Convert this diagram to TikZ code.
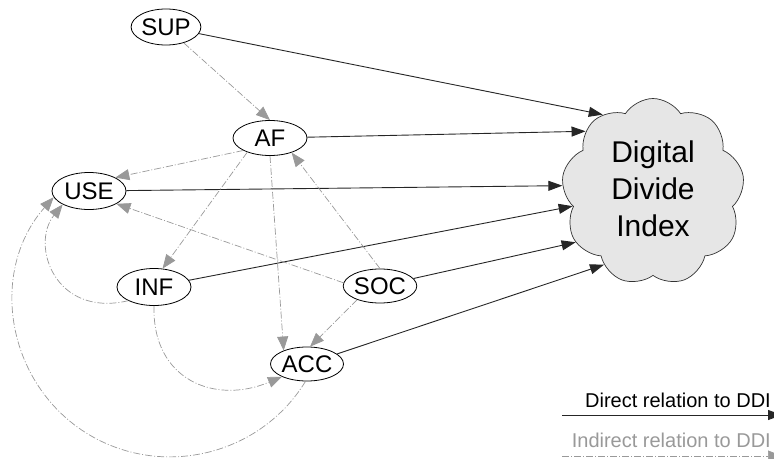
\documentclass[tikz,border=0pt]{standalone}
\usepackage{fontspec}
\setmainfont{Liberation Sans}
\usetikzlibrary{shapes.geometric,shapes.symbols,arrows.meta}
\definecolor{indgray}{HTML}{999999}
\definecolor{cloudfill}{HTML}{E6E6E6}
\begin{document}
\begin{tikzpicture}[x=1pt,y=-1pt,
  var/.style={ellipse,draw,line width=0.8pt,inner sep=0pt,minimum width=74pt,minimum height=36pt,font=\fontsize{24}{28}\selectfont},
  direct/.style={draw=black!85,line width=0.9pt,-{Triangle[length=14pt,width=10pt]}},
  indirect/.style={draw=indgray,line width=0.7pt,dash pattern=on 7pt off 2pt on 1pt off 2pt,-{Triangle[length=14pt,width=11pt]}},
  legtext/.style={anchor=base east,inner sep=0pt,font=\fontsize{20}{24}\selectfont}
]
\useasboundingbox (0,0) rectangle (774,458);
\clip (0,0) rectangle (774,458);

% cloud
\node[cloud,draw=black!80,fill=cloudfill,line width=0.7pt,cloud puffs=9,cloud puff arc=115,aspect=1,
      minimum width=183pt,minimum height=187pt,inner sep=0pt] (ddi) at (653,192) {};
\node[font=\fontsize{30}{37}\selectfont,align=center,inner sep=0pt] (ddit) at (653,189) {Digital\\Divide\\Index};

% variables
\node[var,minimum width=64pt] (SUP) at (166,27) {SUP};
\node[var,minimum height=35pt] (AF) at (270,138) {AF};
\node[var,minimum height=37pt] (USE) at (89,191) {USE};
\node[var,minimum height=37pt] (INF) at (154,287) {INF};
\node[var,minimum width=73pt,minimum height=34pt] (SOC) at (380,286) {SOC};
\node[var,minimum width=73pt,minimum height=34pt] (ACC) at (307,364) {ACC};

% direct relations
\draw[direct] (SUP) -- (ddi.123);
\draw[direct] (AF) -- (ddi.138);
\draw[direct] (USE) -- (ddi.176);
\draw[direct] (INF) -- (ddi.190);
\draw[direct] (SOC) -- (ddi.213);
\draw[direct] (ACC) -- (ddi.236);

% indirect relations
\draw[indirect] (SUP) -- (AF.north);
\draw[indirect] (AF.205) -- (USE.27);
\draw[indirect] (AF.212) -- (INF.65);
\draw[indirect] (AF.south) -- (ACC.150);
\draw[indirect] (SOC.north) -- (AF.-34);
\draw[indirect] (SOC.175) -- (USE.-25);
\draw[indirect] (SOC.211) -- (ACC.80);
\draw[indirect] (INF.208) .. controls (55,318) and (30,245) .. (USE.207);
\draw[indirect] (INF.south) .. controls (152,380) and (215,405) .. (ACC.207);
\draw[indirect] (ACC.-95) .. controls (258,459) and (153,481) .. (78,427.5) .. controls (4,374) and (-9,268) .. (USE.190);

% legend
\coordinate (d1) at (562,415);
\coordinate (d2) at (782,415);
\draw[direct] (d1) -- (d2);
\node[legtext] (ldir) at (771,407) {Direct relation to DDI};
\coordinate (i1) at (562,456);
\coordinate (i2) at (782,456);
\draw[indirect] (i1) -- (i2);
\node[legtext,text=indgray] (lind) at (771,447) {Indirect relation to DDI};
\end{tikzpicture}
\end{document}
